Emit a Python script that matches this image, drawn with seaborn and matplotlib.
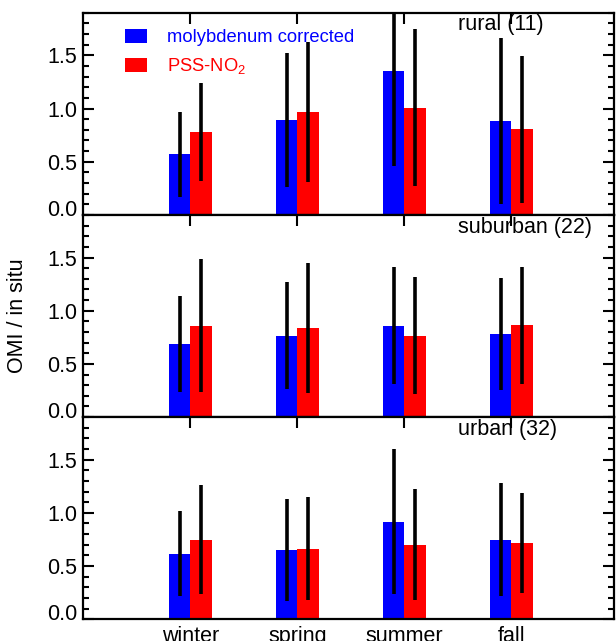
import numpy as np
import pandas as pd
import seaborn as sns
import matplotlib.pyplot as plt
from matplotlib.patches import Patch
from matplotlib.ticker import MultipleLocator
from matplotlib.transforms import ScaledTranslation

# ratios OMI / in situ, per site type and season
seasons = ["winter", "spring", "summer", "fall"]
methods = ["molybdenum corrected", "PSS-NO$_2$"]
sites = ["rural (11)", "suburban (22)", "urban (32)"]

rural_moly = [0.57, 0.89, 1.35, 0.88]
rural_moly_sd = [0.40, 0.63, 0.89, 0.78]
rural_pss = [0.78, 0.966, 1.01, 0.806]
rural_pss_sd = [0.46, 0.66, 0.735, 0.69]

suburban_moly = [0.69, 0.766, 0.86, 0.784]
suburban_moly_sd = [0.45, 0.50, 0.55, 0.525]
suburban_pss = [0.86, 0.84, 0.766, 0.8625]
suburban_pss_sd = [0.625, 0.61, 0.55, 0.55]

urban_moly = [0.616, 0.653, 0.916, 0.747]
urban_moly_sd = [0.40, 0.48, 0.68, 0.53]
urban_pss = [0.747, 0.6625, 0.70, 0.72]
urban_pss_sd = [0.51, 0.485, 0.52, 0.47]

panels = [
    (rural_moly, rural_moly_sd, rural_pss, rural_pss_sd),
    (suburban_moly, suburban_moly_sd, suburban_pss, suburban_pss_sd),
    (urban_moly, urban_moly_sd, urban_pss, urban_pss_sd),
]
colors = ["#0000ff", "#ff0000"]

sns.set_style("ticks")
plt.rcParams["font.family"] = ["Liberation Sans", "DejaVu Sans"]
plt.rcParams["text.color"] = "black"
plt.rcParams["axes.labelcolor"] = "black"
plt.rcParams["mathtext.fontset"] = "custom"
plt.rcParams["mathtext.rm"] = "Liberation Sans"
plt.rcParams["mathtext.it"] = "Liberation Sans"

fig, axes = plt.subplots(3, 1, figsize=(6.16, 6.41), dpi=100, sharex=True)
fig.subplots_adjust(left=0.135, right=0.997, top=0.980, bottom=0.034, hspace=0)

for ax, site, (m, m_sd, p, p_sd) in zip(axes, sites, panels):
    df = pd.DataFrame({
        "season": seasons * 2,
        "ratio": m + p,
        "method": [methods[0]] * 4 + [methods[1]] * 4,
    })
    sns.barplot(data=df, x="season", y="ratio", hue="method", order=seasons,
                hue_order=methods, palette=colors, width=0.4, errorbar=None,
                saturation=1, legend=False, ax=ax)
    # error bars at the centre of each bar
    for cont, sd in zip(ax.containers, [m_sd, p_sd]):
        xs = [b.get_x() + b.get_width() / 2 for b in cont]
        hs = [b.get_height() for b in cont]
        ax.errorbar(xs, hs, yerr=sd, fmt="none", ecolor="black",
                    elinewidth=2.6, capsize=0)
    for b in ax.patches:
        b.set_edgecolor("none")

    ax.set_xlim(-1, 3.96)
    ax.set_ylim(0, 1.9)
    ax.set_yticks([0, 0.5, 1.0, 1.5])
    ax.set_yticklabels(["0.0", "0.5", "1.0", "1.5"])
    ax.yaxis.set_minor_locator(MultipleLocator(0.1))
    ax.set_xlabel("")
    ax.set_ylabel("")
    ax.tick_params(which="both", direction="in", top=True, right=True,
                   width=1.5, labelsize=15.5, colors="black", pad=4)
    ax.tick_params(which="major", length=7.7)
    ax.tick_params(which="minor", length=4.3)
    ax.tick_params(axis="x", which="minor", bottom=False, top=False)
    for s in ax.spines.values():
        s.set_linewidth(1.6)
        s.set_color("black")
    ax.text(2.5, 0.94, site, transform=ax.get_xaxis_transform(),
            ha="left", va="center", fontsize=15.5, color="black")
    lab0 = ax.get_yticklabels()[0]
    lab0.set_transform(lab0.get_transform() +
                       ScaledTranslation(0, 5 / 72, fig.dpi_scale_trans))

axes[-1].set_xticks(range(len(seasons)))
axes[-1].set_xticklabels(seasons)
axes[-1].tick_params(axis="x", labelsize=15.5, pad=5)

axes[1].set_ylabel("OMI / in situ", fontsize=15.5)
axes[1].yaxis.set_label_coords(-0.103, 0.5)

handles = [Patch(facecolor=c, edgecolor="none") for c in colors]
leg = axes[0].legend(handles, methods, loc="upper left",
                     bbox_to_anchor=(0.055, 0.985), frameon=False, fontsize=13.2,
                     handlelength=1.2, handleheight=0.85, handletextpad=1.1,
                     labelspacing=0.55, borderaxespad=0.3)
for t, c in zip(leg.get_texts(), colors):
    t.set_color(c)

plt.savefig("out.png", dpi=100)
plt.close()
